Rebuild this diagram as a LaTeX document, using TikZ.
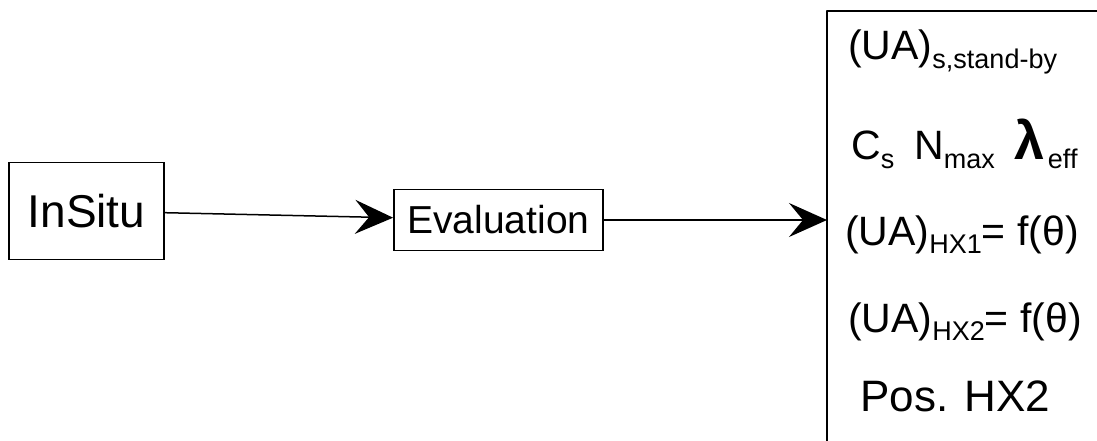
\documentclass[tikz,border=0pt]{standalone}
\usepackage{fontspec}
\setmainfont{Liberation Sans}
\usetikzlibrary{arrows.meta}

\newcommand{\lo}[1]{\raisebox{-0.2em}{\fontsize{27}{27}\selectfont #1}}

\begin{document}
\begin{tikzpicture}[x=1pt, y=-1pt, >={Stealth[length=38pt, width=34pt, inset=14pt]}, line cap=round, line join=round]
  \tikzset{
    box/.style={draw, line width=1.8pt, inner sep=0pt, line join=miter},
    flow/.style={->, line width=1.5pt},
    result/.style={anchor=base west, inner sep=0pt, font=\fontsize{41}{41}\selectfont},
  }
  \useasboundingbox (0,0) rectangle (1097,441);

  % ===== ブロック =====
  \node[box, minimum width=155pt, minimum height=97pt, font=\fontsize{46}{46}\selectfont]
    (insitu) at (86.5,211) {InSitu};
  \node[box, minimum width=209pt, minimum height=61pt, font=\fontsize{39}{39}\selectfont]
    (eval) at (498.5,220) {Evaluation};

  % ===== 結果の枠 =====
  \coordinate (frameTL) at (827,11);
  \coordinate (frameTR) at (1097,11);
  \coordinate (frameBL) at (827,441);
  \coordinate (frameIn) at (827,220);
  \draw[line width=1.6pt] (frameBL) -- (frameTL) -- (frameTR);

  % ===== 矢印 =====
  \draw[flow] (insitu) -- (eval);
  \draw[flow] (eval) -- (frameIn);

  % ===== 結果 =====
  \node[result] (uaS) at (848,60) {(UA)\lo{s,stand-by}};
  \node[result] (params) at (851,160)
    {C\lo{s}\hspace{20pt}N\lo{max}\hspace{20pt}{\fontsize{54}{54}\selectfont\bfseries λ}\hspace{3pt}\lo{eff}};
  \node[result] (uaHXone) at (845,245) {(UA)\lo{HX1}= f(θ)};
  \node[result] (uaHXtwo) at (848,332) {(UA)\lo{HX2}= f(θ)};
  \node[result, font=\fontsize{44}{44}\selectfont] (posHX) at (860,411) {Pos. HX2};

\end{tikzpicture}
\end{document}
